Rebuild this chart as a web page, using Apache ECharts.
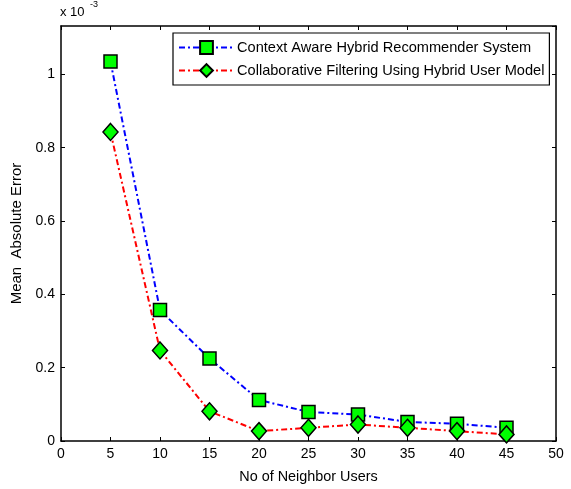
<!DOCTYPE html>
<html>
<head>
<meta charset="utf-8">
<script src="https://cdn.jsdelivr.net/npm/echarts@6/dist/echarts.min.js"></script>
<style>html,body{margin:0;padding:0;background:#fff}#c{width:571px;height:489px}</style>
</head>
<body>
<div id="c"></div>
<script>
var neighborUsers = [5, 10, 15, 20, 25, 30, 35, 40, 45];
var contextAware = [1.035, 0.357, 0.225, 0.112, 0.079, 0.072, 0.052, 0.047, 0.036];
var collaborative = [0.843, 0.247, 0.081, 0.027, 0.036, 0.045, 0.036, 0.027, 0.018];
var seriesNames = ['Context Aware Hybrid Recommender System', 'Collaborative Filtering Using Hybrid User Model'];

function pairs(xs, ys) { return xs.map(function (x, i) { return [x, ys[i]]; }); }

var font = 'Liberation Sans, Arial, Helvetica, sans-serif';
var fs = 14;
var chart = echarts.init(document.getElementById('c'));
var axisLine = { show: true, onZero: false, lineStyle: { color: '#000', width: 1.5 } };
var tick = { show: true, inside: true, length: 4, lineStyle: { color: '#000', width: 1 } };
chart.setOption({
  animation: false,
  backgroundColor: '#fff',
  textStyle: { fontFamily: font },
  grid: { left: 61, right: 15, top: 26, bottom: 44, containLabel: false },
  legend: {
    orient: 'vertical',
    left: 173, top: 33,
    padding: [7, 5, 7, 5],
    borderColor: '#000', borderWidth: 1.2,
    backgroundColor: '#fff',
    itemWidth: 55, itemHeight: 16, itemGap: 8,
    textStyle: { fontFamily: font, fontSize: 14.6, color: '#000', padding: [0, 0, 0, -2] },
    data: seriesNames
  },
  xAxis: [{
    type: 'value', min: 0, max: 50, interval: 5,
    name: 'No of Neighbor Users', nameLocation: 'middle', nameGap: 29,
    nameTextStyle: { fontFamily: font, fontSize: 14.4, color: '#000' },
    axisLine: axisLine, axisTick: tick, splitLine: { show: false },
    axisLabel: { color: '#000', fontSize: fs, fontFamily: font, margin: 6 }
  }, {
    type: 'value', min: 0, max: 50, interval: 5, position: 'top',
    axisLine: axisLine, axisTick: tick, splitLine: { show: false },
    axisLabel: { show: false }
  }],
  yAxis: [{
    type: 'value', min: 0, max: 1.132, interval: 0.2,
    name: 'Mean  Absolute Error', nameLocation: 'middle', nameGap: 37,
    nameTextStyle: { fontFamily: font, fontSize: 15, color: '#000' },
    axisLine: axisLine, axisTick: tick, splitLine: { show: false },
    axisLabel: { color: '#000', fontSize: fs, fontFamily: font, margin: 6, showMaxLabel: false,
      formatter: function (v) { return Math.abs(v - 1.132) < 1e-6 ? '' : String(Math.round(v * 10) / 10); } }
  }, {
    type: 'value', min: 0, max: 1.132, interval: 0.2, position: 'right',
    axisLine: axisLine, axisTick: tick, splitLine: { show: false },
    axisLabel: { show: false }
  }],
  graphic: [
    { type: 'text', left: 60, top: 6, style: { text: 'x 10', fontFamily: font, fontSize: 13, fill: '#000' } },
    { type: 'text', left: 90, top: 0, style: { text: '-3', fontFamily: font, fontSize: 9, fill: '#000' } }
  ],
  series: [{
    name: seriesNames[0], type: 'line',
    data: pairs(neighborUsers, contextAware),
    symbol: 'rect', symbolSize: 13,
    lineStyle: { color: '#0000ff', width: 2, type: [6, 3, 2, 3] },
    itemStyle: { color: '#00ff00', borderColor: '#000', borderWidth: 1.5 }
  }, {
    name: seriesNames[1], type: 'line',
    data: pairs(neighborUsers, collaborative),
    symbol: 'diamond', symbolSize: [15, 17],
    lineStyle: { color: '#ff0000', width: 2, type: [6, 3, 2, 3] },
    itemStyle: { color: '#00ff00', borderColor: '#000', borderWidth: 1.5 }
  }]
});
</script>
</body>
</html>
